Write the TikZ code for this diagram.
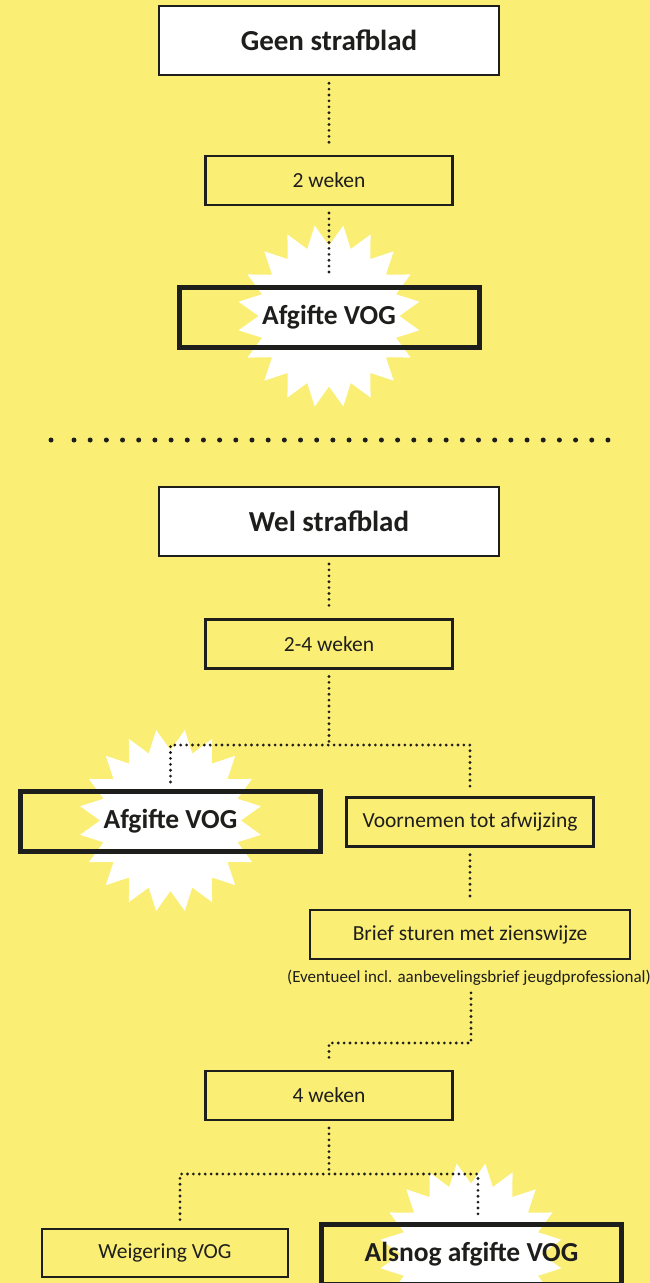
\documentclass[tikz,border=0pt]{standalone}
\usepackage{fontspec}
\setmainfont{Carlito}
\usepackage{tikz}
\usetikzlibrary{shapes.geometric}
\definecolor{vogyellow}{RGB}{251,238,117}
\definecolor{ink}{RGB}{30,30,28}

\begin{document}
\begin{tikzpicture}[x=1pt,y=-1pt]
      \tikzstyle{every node}=[inner sep=0pt,text=ink]
      \tikzstyle{box}=[draw=ink,line width=2.4pt,shape=rectangle,minimum width=247pt,minimum height=49pt,font=\fontsize{21.5}{24}\selectfont]
      \tikzstyle{head}=[box,fill=white,minimum width=340pt,minimum height=69pt,font=\fontsize{29}{32}\selectfont\bfseries]
      \tikzstyle{vog}=[box,line width=5pt,minimum width=300pt,minimum height=60pt,font=\fontsize{27.5}{30}\selectfont\bfseries]
      \tikzstyle{burst}=[star,star points=20,star point ratio=1.3,minimum size=183pt,fill=white,draw=none,shape border rotate=9]
      \tikzstyle{conn}=[draw=ink,line width=3.1pt,line cap=round,dash pattern=on 0pt off 5.9pt,shorten >=7pt,shorten <=7pt]

      \useasboundingbox (0,0) rectangle (650,1283);
      \fill[vogyellow] (0,0) rectangle (650,1283);

      % stars behind the VOG boxes
      \node[burst] (st1) at (329,316) {};
      \node[burst] (st2) at (170.5,820.5) {};
      \node[burst] (st3) at (471,1254) {};

      % geen strafblad
      \node[head] (geen) at (329,40.5) {Geen strafblad};
      \node[box] (w2) at (329,180.3) {2 weken};
      \node[vog] (afg1) at (329,317.2) {Afgifte VOG};

      \fill[ink] (51,440) circle (2.5pt);
      \foreach \i in {0,...,33}
        \fill[ink] ({74+16.18*\i},440) circle (2.5pt);

      % wel strafblad
      \node[head] (wel) at (329,521.3) {Wel strafblad};
      \node[box] (w24) at (329,643.8) {2-4 weken};
      \node[vog] (afg2) at (170.5,821.5) {Afgifte VOG};
      \node[box] (voor) at (470,822) {Voornemen tot afwijzing};
      \node[box,minimum width=320pt] (brief) at (470,934.5) {Brief sturen met zienswijze};
      \node[font=\fontsize{17}{20}\selectfont] (note) at (469,978) {(Eventueel incl. aanbevelingsbrief jeugdprofessional)};
      \node[box] (w4) at (329,1095.3) {4 weken};
      \node[box,minimum width=246pt,minimum height=48pt] (weig) at (165,1252.8) {Weigering VOG};
      \node[vog] (als) at (471.5,1254.2) {Alsnog afgifte VOG};

      \coordinate (sp1) at (329,745);
      \coordinate (sp2) at (471,1043);
      \coordinate (sp3) at (329,1174);
      \coordinate (l3) at (180,1174);
      \coordinate (r3) at (478,1174);

      \draw[conn] (geen) -- (w2);
      \draw[conn] (w2) -- (afg1);

      \draw[conn] (wel) -- (w24);
      \draw[conn,shorten >=0pt] (w24) -- (sp1);
      \draw[conn] (afg2) |- (sp1) -| (voor);
      \draw[conn] (voor) -- (brief);
      \draw[conn] (note.south -| sp2) -- (sp2) -| (w4);
      \draw[conn,shorten >=0pt] (w4) -- (sp3);
      \draw[conn,shorten <=8pt] (l3 |- weig.north) |- (r3) -- (r3 |- als.north);

    \end{tikzpicture}
\end{document}
